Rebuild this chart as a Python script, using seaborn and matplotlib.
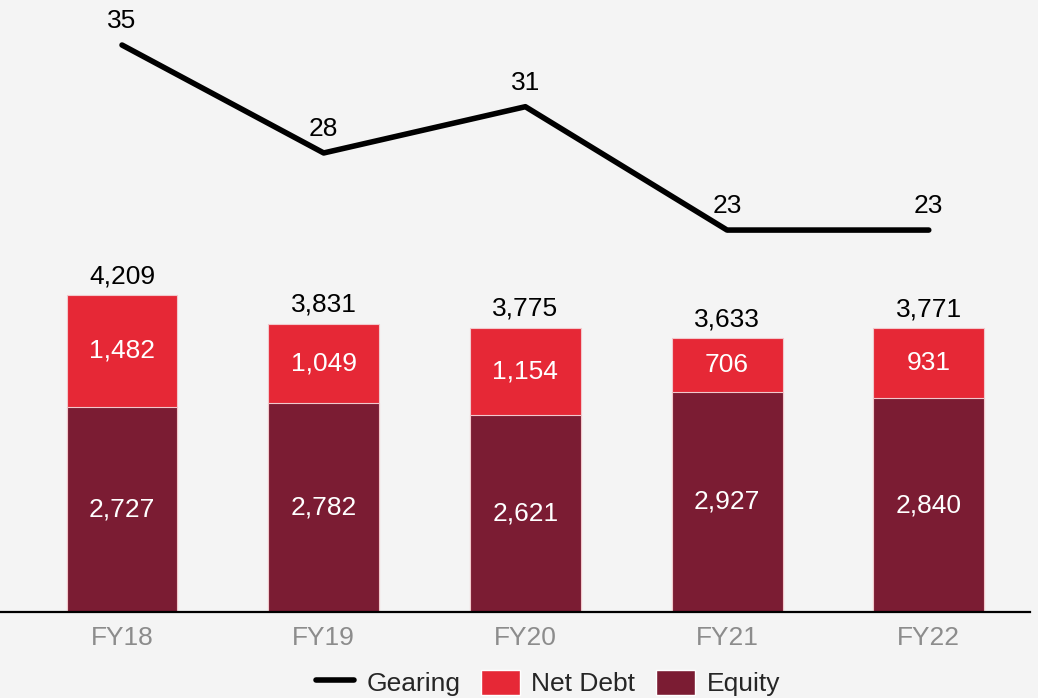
import matplotlib
matplotlib.use("Agg")
import matplotlib.pyplot as plt
import seaborn as sns
import pandas as pd
from matplotlib.lines import Line2D
from matplotlib.patches import Patch

# Chart data
years = ["FY18", "FY19", "FY20", "FY21", "FY22"]
equity = [2727, 2782, 2621, 2927, 2840]
net_debt = [1482, 1049, 1154, 706, 931]
total = [4209, 3831, 3775, 3633, 3771]
gearing = [35, 28, 31, 23, 23]

red = "#e62836"
dark = "#7b1c33"
bg = "#f4f4f4"
fs = 19

sns.set_style("white")
plt.rcParams["font.family"] = ["Liberation Sans", "DejaVu Sans"]

df = pd.DataFrame({"year": years, "equity": equity, "net_debt": net_debt,
                   "total": total, "gearing": gearing})

fig = plt.figure(figsize=(10.38, 6.98), dpi=100, facecolor=bg)
ax = fig.add_axes([0, 0.1232, 0.9923, 0.8768])
ax.set_facecolor(bg)

# total bar in red, equity drawn over it -> visible red part is net debt
sns.barplot(data=df, x="year", y="total", color=red, width=0.55,
            edgecolor="#f2c8cc", linewidth=0.8, saturation=1, ax=ax)
sns.barplot(data=df, x="year", y="equity", color=dark, width=0.55,
            edgecolor="#f2c8cc", linewidth=0.8, saturation=1, ax=ax)

ax.set_ylim(0, 8127)
ax.set_xlim(-0.605, 4.502)
ax.set_xlabel("")
ax.set_ylabel("")
ax.set_yticks([])
for s in ["top", "right", "left"]:
    ax.spines[s].set_visible(False)
ax.spines["bottom"].set_color("black")
ax.spines["bottom"].set_linewidth(1.6)
ax.tick_params(axis="x", length=0, pad=10, labelsize=fs, labelcolor="#8c8c8c")

for i in range(len(years)):
    ax.annotate(f"{total[i]:,}", (i, total[i]), xytext=(0, 13.5),
                textcoords="offset points", ha="center", va="center",
                fontsize=fs, color="black")
    ax.text(i, equity[i] + net_debt[i] / 2, f"{net_debt[i]:,}", ha="center",
            va="center", fontsize=fs, color="white")
    ax.text(i, equity[i] / 2, f"{equity[i]:,}", ha="center", va="center",
            fontsize=fs, color="white")

# gearing line on a second axis
ax2 = ax.twinx()
sns.lineplot(x=list(range(len(years))), y=gearing, color="black",
             linewidth=4, solid_capstyle="round", ax=ax2)
ax2.set_ylim(-1.77, 37.92)
ax2.set_yticks([])
for s in ax2.spines.values():
    s.set_visible(False)
for i, g in enumerate(gearing):
    ax2.annotate(f"{g}", (i, g), xytext=(0, 17), textcoords="offset points",
                 ha="center", va="center", fontsize=fs, color="black")

handles = [Line2D([0], [0], color="black", linewidth=4, solid_capstyle="round"),
           Patch(facecolor=red), Patch(facecolor=dark)]
fig.legend(handles, ["Gearing", "Net Debt", "Equity"], loc="center",
           bbox_to_anchor=(0.528, 0.0215), ncol=3, frameon=False,
           fontsize=fs, handlelength=1.45, handleheight=1.1,
           handletextpad=0.45, columnspacing=0.8)

plt.savefig("out.png", dpi=100, facecolor=bg)
